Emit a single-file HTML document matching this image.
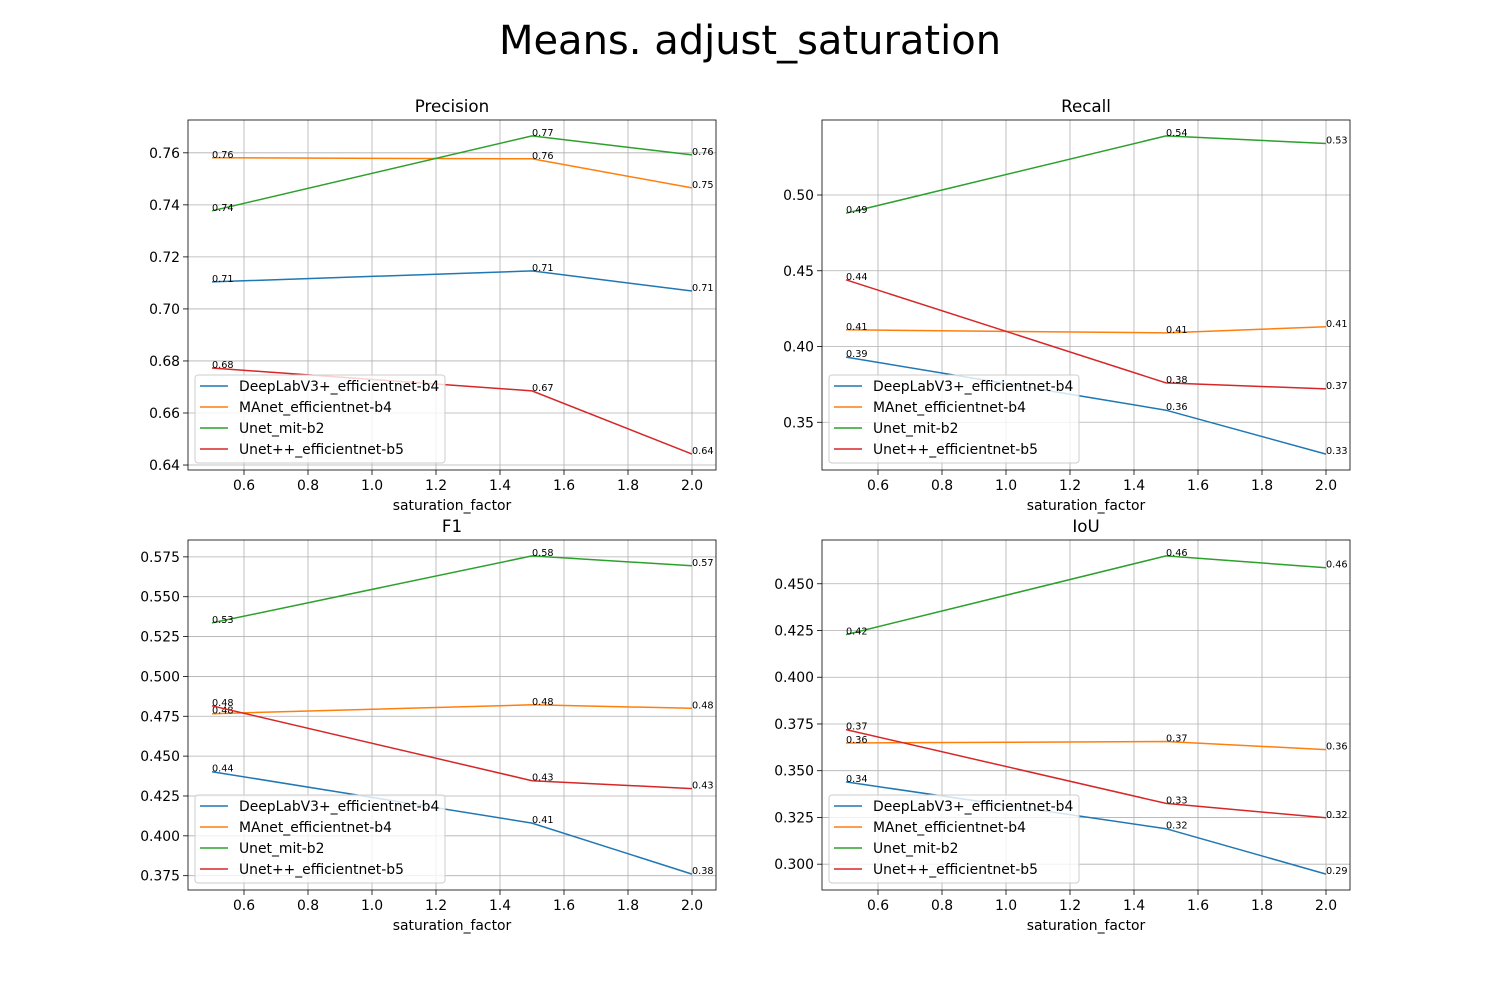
<!DOCTYPE html>
<html><head><meta charset="utf-8"><style>
body{margin:0;background:#fff}
svg{display:block;font-family:"DejaVu Sans","Liberation Sans",sans-serif}
</style></head><body>
<svg id="fig" width="1500" height="1000" viewBox="0 0 1500 1000" xmlns="http://www.w3.org/2000/svg">
<rect width="1500" height="1000" fill="#fff"/>
<text x="750" y="54" text-anchor="middle" font-size="40">Means. adjust_saturation</text>
</svg>
<script>
const xValues=[0.5,1.5,2.0];
const seriesNames=["DeepLabV3+_efficientnet-b4","MAnet_efficientnet-b4","Unet_mit-b2","Unet++_efficientnet-b5"];
const colors=["#1f77b4","#ff7f0e","#2ca02c","#d62728"];
const xTicks=[0.6,0.8,1.0,1.2,1.4,1.6,1.8,2.0];
const precisionValues=[[0.7104,0.7146,0.7069],[0.7581,0.7577,0.7465],[0.7377,0.7665,0.7592],[0.6773,0.6685,0.6442]];
const recallValues=[[0.393,0.358,0.329],[0.411,0.409,0.413],[0.488,0.539,0.534],[0.444,0.376,0.372]];
const f1Values=[[0.4402,0.408,0.376],[0.4766,0.4822,0.480],[0.5336,0.5756,0.5694],[0.4816,0.4346,0.4296]];
const iouValues=[[0.344,0.319,0.2947],[0.3648,0.3656,0.3613],[0.372,0.3325,0.3248]];
iouValues.splice(2,0,[0.4228,0.4649,0.4586]);
const precisionTicks=[0.64,0.66,0.68,0.70,0.72,0.74,0.76];
const recallTicks=[0.35,0.40,0.45,0.50];
const f1Ticks=[0.375,0.400,0.425,0.450,0.475,0.500,0.525,0.550,0.575];
const iouTicks=[0.300,0.325,0.350,0.375,0.400,0.425,0.450];

const svg=document.getElementById('fig');
const NS="http://www.w3.org/2000/svg";
function mk(tag,attrs,parent){const e=document.createElementNS(NS,tag);for(const k in attrs)e.setAttribute(k,attrs[k]);(parent||svg).appendChild(e);return e;}

function panel(title,vals,ticks,dec,x0,y0,slug){
  const W=528,H=350;
  const g=mk('g',{});
  
  
  let all=vals.flat();let mn=Math.min(...all),mx=Math.max(...all),m=(mx-mn)*0.05;
  const ylo=mn-m,yhi=mx+m;
  const xlo=0.425,xhi=2.075;
  const sx=v=>x0+(v-xlo)/(xhi-xlo)*W;
  const sy=v=>y0+H-(v-ylo)/(yhi-ylo)*H;
  xTicks.forEach(t=>{
    const x=sx(t);
    const gl=mk('line',{x1:x,x2:x,y1:y0,y2:y0+H,stroke:'#b0b0b0','stroke-width':0.8},g);
    
    
    mk('line',{x1:x,x2:x,y1:y0+H,y2:y0+H+5,stroke:'#000','stroke-width':0.8},g);
    const tl=mk('text',{x:x,y:y0+H+20,'text-anchor':'middle','font-size':13.9},g);
    tl.textContent=t.toFixed(1);
    
    
  });
  ticks.forEach(t=>{
    const y=sy(t);
    const gl=mk('line',{x1:x0,x2:x0+W,y1:y,y2:y,stroke:'#b0b0b0','stroke-width':0.8},g);
    
    
    mk('line',{x1:x0-5,x2:x0,y1:y,y2:y,stroke:'#000','stroke-width':0.8},g);
    const tl=mk('text',{x:x0-8,y:y+5,'text-anchor':'end','font-size':13.9},g);
    tl.textContent=t.toFixed(dec);
    
    
  });
  vals.forEach((s,i)=>{
    const pts=s.map((v,j)=>sx(xValues[j]).toFixed(1)+','+sy(v).toFixed(1)).join(' ');
    const pl=mk('polyline',{points:pts,fill:'none',stroke:colors[i],'stroke-width':1.5},g);
    
    
    s.forEach((v,j)=>{
      const a=mk('text',{x:sx(xValues[j]),y:sy(v),'font-size':9.7},g);
      a.textContent=v.toFixed(2);
      
      
    });
  });
  const fr=mk('rect',{x:x0,y:y0,width:W,height:H,fill:'none',stroke:'#000','stroke-width':0.8},g);
  
  
  const tt=mk('text',{x:x0+W/2,y:y0-8,'text-anchor':'middle','font-size':16.7},g);
  tt.textContent=title;
  
  
  const xl=mk('text',{x:x0+W/2,y:y0+H+40,'text-anchor':'middle','font-size':13.9},g);
  xl.textContent='saturation_factor';
  
  
  const lg=mk('g',{},g);
  
  
  mk('rect',{x:x0+7,y:y0+H-95,width:250,height:88,rx:3,fill:'#fff','fill-opacity':0.8,stroke:'#ccc','stroke-width':1},lg);
  seriesNames.forEach((n,i)=>{
    const y=y0+H-84+i*21;
    mk('line',{x1:x0+12,x2:x0+40,y1:y,y2:y,stroke:colors[i],'stroke-width':1.5},lg);
    const t=mk('text',{x:x0+51,y:y+5,'font-size':13.9},lg);
    t.textContent=n;
    
    
  });
}
panel('Precision',precisionValues,precisionTicks,2,188,120,'precision');
panel('Recall',recallValues,recallTicks,2,822,120,'recall');
panel('F1',f1Values,f1Ticks,3,188,540,'f1');
panel('IoU',iouValues,iouTicks,3,822,540,'iou');
</script>
</body></html>
